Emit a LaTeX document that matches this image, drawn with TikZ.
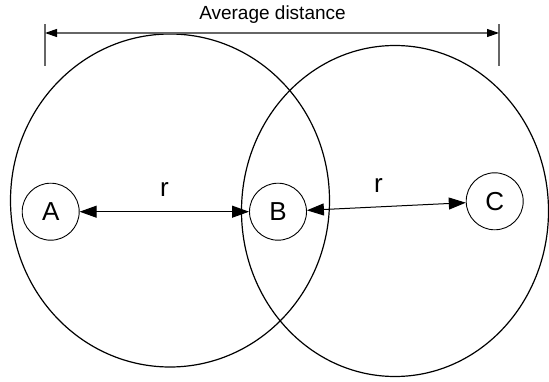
\documentclass[tikz,border=0pt]{standalone}
\usepackage{fontspec}
\setmainfont{Liberation Sans}
\usetikzlibrary{positioning,arrows.meta}
\tikzset{
  pairarrow/.style={{Triangle[length=17pt, width=12pt]}-{Triangle[length=17pt, width=12pt]}, line width=1pt},
  spanarrow/.style={{Triangle[length=12pt, width=8pt, fill=black, color=black]}-{Triangle[length=12pt, width=8pt, fill=black, color=black]}, line width=1.2pt, draw=black!60},
  spantick/.style={line width=1.2pt, draw=black!60},
  rangering/.style={line width=1.2pt},
  pointnode/.style={draw, circle, line width=0.9pt, minimum size=57pt, inner sep=0pt, font=\fontsize{26}{30}\selectfont},
  distlabel/.style={font=\fontsize{26}{30}\selectfont, inner sep=0pt}
}
\begin{document}
\begin{tikzpicture}[x=1pt, y=-1pt]
      \useasboundingbox (0,0) rectangle (549,382);
      % coverage areas
      \draw[rangering] (170,200.5) ellipse [x radius=159.5, y radius=166.5];
      \draw[rangering] (395,211) ellipse [x radius=153.5, y radius=165.5];
      % points
      \node[pointnode] (a) at (50.7,211.7) {A};
      \node[pointnode] (b) at (278,211.7) {B};
      \node[pointnode] (c) at (494.7,201.3) {C};
      \draw[pairarrow] (a) -- node[distlabel, midway, above=15pt] (rab) {r} (b);
      \draw[pairarrow] (b) -- node[distlabel, pos=0.45, above=14pt] (rbc) {r} (c);
      % average distance span
      \coordinate (spanl) at (45,33);
      \coordinate (spanr) at (499,33);
      \draw[spantick] (45,24.5) -- (45,66.5);
      \draw[spantick] (499,24.5) -- (499,66.5);
      \draw[spanarrow] (spanl) -- (spanr);
      \node[anchor=base, font=\fontsize{19}{22}\selectfont, inner sep=0pt] (avg) at (272.5,20) {Average distance};
    \end{tikzpicture}
\end{document}
